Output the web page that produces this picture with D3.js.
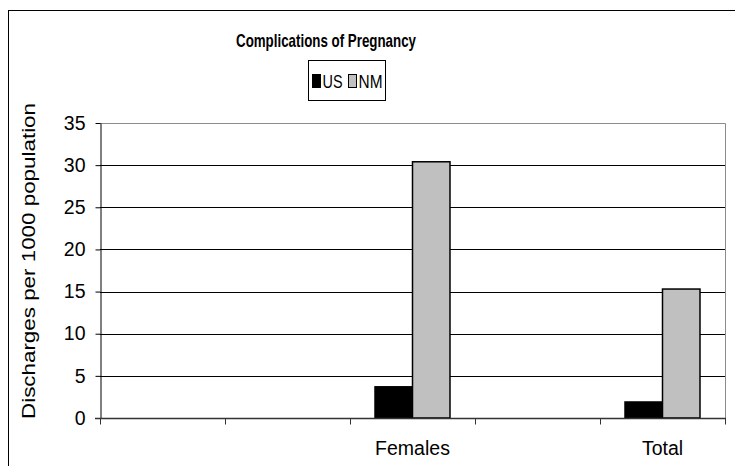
<!DOCTYPE html>
<html>
<head>
<meta charset="utf-8">
<script src="https://cdn.jsdelivr.net/npm/d3@7"></script>
<style>
  body { margin: 0; background: #fff; }
  svg { display: block; font-family: "Liberation Sans", Arial, sans-serif; }
</style>
</head>
<body>
<svg id="chart" width="735" height="466"></svg>
<script>
// chart values
const categories = ["", "", "Females", "", "Total"]
const seriesNames = ["US", "NM"]
const usValues = [0, 0, 3.7, 0, 1.9]
const nmValues = [0, 0, 30.4, 0, 15.3]
const yTicks = [0, 5, 10, 15, 20, 25, 30, 35]
const seriesColors = ["#000000", "#c0c0c0"]

const svg = d3.select('#chart')

// outer chart border (runs off the right and bottom edge)
svg.append('rect')
  .attr('x', 8.5).attr('y', 10.5)
  .attr('width', 740).attr('height', 470)
  .attr('fill', 'none').attr('stroke', '#000')

const plot = { left: 100, right: 725, top: 123, bottom: 418 }

const x = d3.scaleBand()
  .domain(d3.range(categories.length))
  .range([plot.left, plot.right])
  .padding(0)

const xInner = d3.scaleBand()
  .domain(seriesNames)
  .range([0, x.bandwidth()])
  .paddingInner(0)
  .paddingOuter(0.667)

const y = d3.scaleLinear()
  .domain([0, 35])
  .range([plot.bottom, plot.top])

const color = d3.scaleOrdinal().domain(seriesNames).range(seriesColors)

// gridlines
svg.append('g')
  .selectAll('line')
  .data(yTicks.filter(t => t > 0 && t < 35))
  .enter()
  .append('line')
  .attr('x1', plot.left).attr('x2', plot.right)
  .attr('y1', d => Math.round(y(d)) + 0.5).attr('y2', d => Math.round(y(d)) + 0.5)
  .attr('stroke', '#000')

// plot area border (top / right in grey)
svg.append('path')
  .attr('d', `M${plot.left},${plot.top + 0.5}H${plot.right + 0.5}V${plot.bottom}`)
  .attr('fill', 'none')
  .attr('stroke', '#8c8c8c')

// bars
const rows = categories.map((c, i) => ({ i: i, US: usValues[i], NM: nmValues[i] }))
const groups = svg.append('g')
  .selectAll('g')
  .data(rows)
  .enter()
  .append('g')
  .attr('transform', d => `translate(${x(d.i)},0)`)

groups.selectAll('rect')
  .data(d => seriesNames.map(s => ({ key: s, value: d[s] })).filter(v => v.value > 0))
  .enter()
  .append('rect')
  .attr('x', d => xInner(d.key))
  .attr('y', d => y(d.value))
  .attr('width', xInner.bandwidth())
  .attr('height', d => y(0) - y(d.value))
  .attr('fill', d => color(d.key))
  .attr('stroke', '#000')
  .attr('stroke-width', 1.5)

// y axis
const yAxis = svg.append('g')
  .attr('transform', `translate(${plot.left + 0.5},0)`)
  .call(d3.axisLeft(y).tickValues(yTicks).tickSize(5).tickPadding(10).tickSizeOuter(0))
yAxis.select('.domain').attr('stroke', '#000')
yAxis.selectAll('.tick line').attr('stroke', '#000')
yAxis.selectAll('text')
  .style('font-size', '19.5px')
  .attr('fill', '#000')

// x axis
const xAxis = svg.append('g')
  .attr('transform', `translate(0,${plot.bottom + 0.5})`)
  .call(d3.axisBottom(x).tickValues([]).tickSizeOuter(0))
xAxis.select('.domain').attr('stroke', '#333').attr('stroke-width', 1.5)
  .attr('d', `M${plot.left - 5},0H${plot.right + 1}`)

xAxis.selectAll('.cat-tick')
  .data(d3.range(categories.length + 1))
  .enter()
  .append('line')
  .attr('class', 'cat-tick')
  .attr('x1', d => plot.left + d * x.step() + 0.5)
  .attr('x2', d => plot.left + d * x.step() + 0.5)
  .attr('y1', 0).attr('y2', 6)
  .attr('stroke', '#333')

xAxis.selectAll('.cat-label')
  .data(categories)
  .enter()
  .append('text')
  .attr('class', 'cat-label')
  .attr('x', (d, i) => x(i) + x.bandwidth() / 2)
  .attr('y', 36)
  .attr('text-anchor', 'middle')
  .style('font-size', '19.5px')
  .attr('fill', '#000')
  .text(d => d)

// y axis title
svg.append('text')
  .attr('transform', `translate(35,261) rotate(-90)`)
  .attr('text-anchor', 'middle')
  .attr('textLength', 316)
  .attr('lengthAdjust', 'spacingAndGlyphs')
  .style('font-size', '19px')
  .text('Discharges per 1000 population')

// title
svg.append('text')
  .attr('x', 326).attr('y', 47)
  .attr('text-anchor', 'middle')
  .attr('textLength', 180)
  .attr('lengthAdjust', 'spacingAndGlyphs')
  .style('font-size', '18.5px')
  .style('font-weight', 'bold')
  .text('Complications of Pregnancy')

// legend
const legend = svg.append('g').attr('transform', 'translate(308,60)')
legend.append('rect')
  .attr('x', 0.5).attr('y', 0.5).attr('width', 77).attr('height', 40)
  .attr('fill', '#fff').attr('stroke', '#000')

const items = legend.selectAll('.item')
  .data(seriesNames)
  .enter()
  .append('g')
  .attr('class', 'item')
  .attr('transform', (d, i) => `translate(${4.5 + i * 36},0)`)

items.append('rect')
  .attr('x', 0).attr('y', 14.5).attr('width', 8).attr('height', 13)
  .attr('fill', d => color(d))
  .attr('stroke', '#000')
  .attr('stroke-width', 1)

items.append('text')
  .attr('x', 10).attr('y', 28)
  .attr('textLength', d => d === 'US' ? 20 : 24)
  .attr('lengthAdjust', 'spacingAndGlyphs')
  .style('font-size', '19px')
  .text(d => d)
</script>
</body>
</html>
